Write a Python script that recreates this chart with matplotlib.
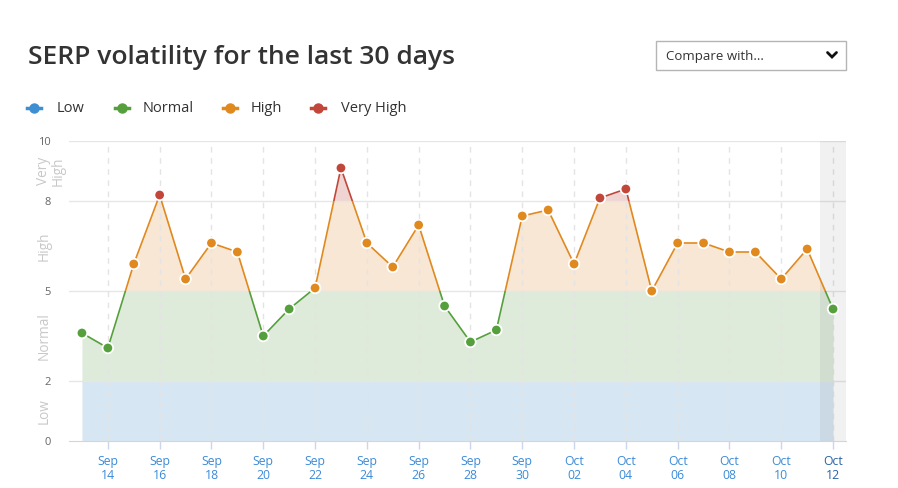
import matplotlib
matplotlib.use("Agg")
import matplotlib.pyplot as plt
import numpy as np
from matplotlib.patches import Rectangle
from matplotlib.lines import Line2D
from matplotlib.transforms import blended_transform_factory

# ---------------- data ----------------
days = ["Sep 13", "Sep 14", "Sep 15", "Sep 16", "Sep 17", "Sep 18", "Sep 19",
        "Sep 20", "Sep 21", "Sep 22", "Sep 23", "Sep 24", "Sep 25", "Sep 26",
        "Sep 27", "Sep 28", "Sep 29", "Sep 30", "Oct 01", "Oct 02", "Oct 03",
        "Oct 04", "Oct 05", "Oct 06", "Oct 07", "Oct 08", "Oct 09", "Oct 10",
        "Oct 11", "Oct 12"]
volatility = [3.6, 3.1, 5.9, 8.2, 5.4, 6.6, 6.3, 3.5, 4.4, 5.1, 9.1, 6.6, 5.8,
              7.2, 4.5, 3.3, 3.7, 7.5, 7.7, 5.9, 8.1, 8.4, 5.0, 6.6, 6.6, 6.3,
              6.3, 5.4, 6.4, 4.4]
zone_names = ["Low", "Normal", "High", "Very High"]
zone_axis_labels = ["Low", "Normal", "High", "Very\nHigh"]
zone_bounds = [0, 2, 5, 8, 10]
y_ticks = [0, 2, 5, 8, 10]

# ---------------- style ----------------
line_colors = ["#3d8fd1", "#55a03c", "#e0891f", "#c0473a"]
fill_colors = ["#d6e6f2", "#deeada", "#f8e7d4", "#f0d4d2"]
FONT = ["Open Sans", "DejaVu Sans"]
plt.rcParams["font.family"] = FONT

W, H = 898, 488
fig = plt.figure(figsize=(W / 100, H / 100), dpi=100)
fig.patch.set_facecolor("white")

def fx(px):
    return px / W

def fy(py):
    return 1 - py / H

ax = fig.add_axes([fx(69), fy(441), (846 - 69) / W, 300 / H])
x = np.arange(len(days))
y = np.array(volatility)
xmin, xmax = -0.5, len(days) - 0.5
ax.set_xlim(xmin, xmax)
ax.set_ylim(0, 10)

# zone-coloured fills and lines
for lo, hi, lc, fc in zip(zone_bounds[:-1], zone_bounds[1:], line_colors, fill_colors):
    clip_f = Rectangle((xmin, lo), xmax - xmin, hi - lo, transform=ax.transData)
    poly = ax.fill_between(x, 0, y, color=fc, lw=0, zorder=1)
    poly.set_clip_path(clip_f)
    clip_l = Rectangle((xmin, lo), xmax - xmin, hi - lo, transform=ax.transData)
    ln, = ax.plot(x, y, color=lc, lw=1.2, zorder=3, solid_capstyle="butt")
    ln.set_clip_path(clip_l)

# grid lines
for t in y_ticks[1:]:
    ax.axhline(t, color="#e6e6e6", lw=1, zorder=1.5)
for xi in x[1::2]:
    ax.axvline(xi, color="#e4e4e4", lw=1, ls=(0, (4, 4)), zorder=1.5)

# shaded current day
ax.axvspan(x[-1] - 0.5, x[-1] + 0.5, color="black", alpha=0.055, lw=0, zorder=2)

# markers
def zone_idx(v):
    for i in range(len(zone_bounds) - 1):
        if v < zone_bounds[i + 1]:
            return i
    return len(zone_bounds) - 2

mcolors = [line_colors[zone_idx(v)] for v in y]
ax.scatter(x, y, s=58, c=mcolors, edgecolors="white", linewidths=1.3,
           zorder=4, clip_on=False)

# axes styling
for s in ["top", "right", "left"]:
    ax.spines[s].set_visible(False)
ax.spines["bottom"].set_color("#ccd6eb")
ax.spines["bottom"].set_zorder(5)

ax.set_yticks(y_ticks)
ax.set_yticklabels([str(t) for t in y_ticks])
ax.tick_params(axis="y", length=0, pad=13, labelsize=8, labelcolor="#666666")

ax.set_xticks(x[1::2])
ax.set_xticklabels([d.replace(" ", "\n") for d in days[1::2]], linespacing=1.15)
ax.tick_params(axis="x", length=6, width=1, color="#ccd6eb", pad=4,
               labelsize=8.8, labelcolor="#3b8bd8")
ax.get_xticklabels()[-1].set_color("#2a62a8")

# zone labels on the y-axis
trans = blended_transform_factory(ax.transAxes, ax.transData)
for lo, hi, lab in zip(zone_bounds[:-1], zone_bounds[1:], zone_axis_labels):
    xo = -0.0325 if "\n" not in lab else -0.0235
    ax.text(xo, (lo + hi) / 2, lab, transform=trans, rotation=90, ha="center",
            va="center", fontsize=9.8, color="#c8c8c8", linespacing=1.0)

# title
fig.text(fx(28), fy(58), "SERP volatility for the last 30 days", fontsize=19,
         fontweight="semibold", color="#333333", va="center", ha="left")

# legend
leg_marker_x = [34, 122, 230, 318]
leg_text_x = [57, 143, 251, 341]
for name, c, mx, tx in zip(zone_names, line_colors, leg_marker_x, leg_text_x):
    fig.add_artist(Line2D([fx(mx - 7), fx(mx + 7)], [fy(107.5), fy(107.5)],
                          color=c, lw=2.5, transform=fig.transFigure))
    fig.add_artist(Line2D([fx(mx)], [fy(107.5)], color=c, marker="o",
                          markersize=6.5, lw=0, transform=fig.transFigure))
    fig.text(fx(tx), fy(109), name, fontsize=10.5, color="#333333",
             va="center", ha="left")

# "Compare with..." dropdown
fig.add_artist(Rectangle((fx(655.5), fy(69.5)), (846 - 655.5) / W, 28.5 / H,
                         transform=fig.transFigure, facecolor="white",
                         edgecolor="#b5b5b5", lw=1))
fig.text(fx(666), fy(56.5), "Compare with...", fontsize=9.5, color="#333333",
         va="center", ha="left")
fig.add_artist(Line2D([fx(827.5), fx(832), fx(836.5)], [fy(52.5), fy(57), fy(52.5)],
                      color="#111111", lw=2, transform=fig.transFigure,
                      solid_capstyle="round", solid_joinstyle="miter"))

fig.savefig("out.png", dpi=100, facecolor="white")
